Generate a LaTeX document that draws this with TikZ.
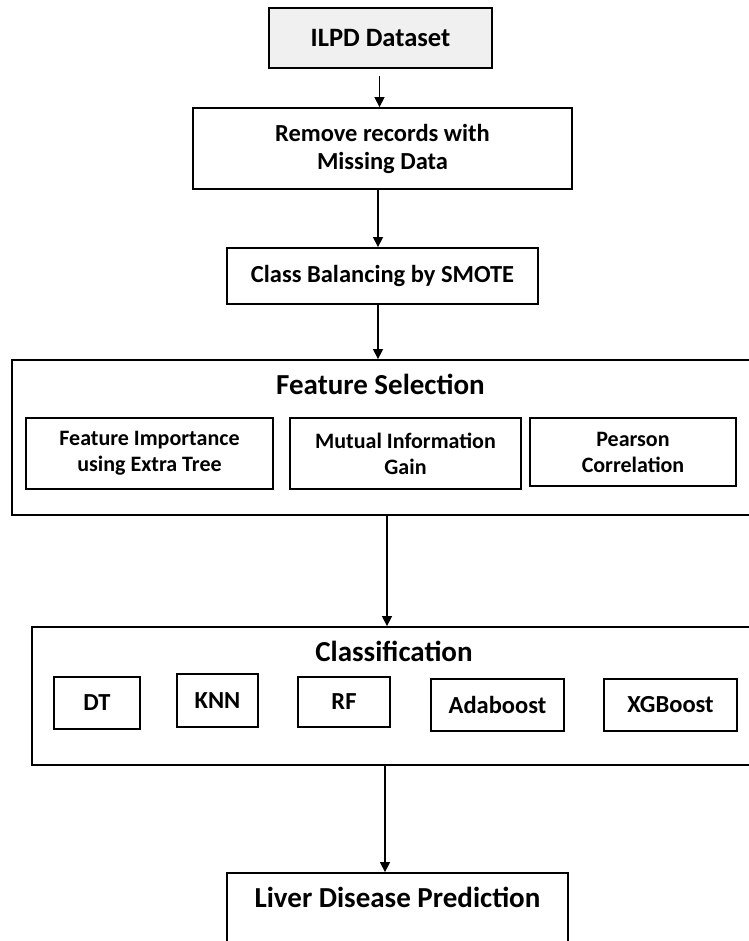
\documentclass[tikz,border=0pt]{standalone}
\usepackage{fontspec}
\setmainfont{Carlito}
\usetikzlibrary{arrows.meta}
\tikzset{
  stepbox/.style={draw, line width=1.8pt, align=center, inner sep=0pt, font=\fontsize{24.5}{28}\selectfont\bfseries},
  subbox/.style={stepbox, font=\fontsize{22}{26}\selectfont\bfseries},
  modelbox/.style={stepbox, font=\fontsize{24.5}{28}\selectfont\bfseries},
  groupbox/.style={draw, line width=1.8pt, inner sep=0pt},
  grouptitle/.style={font=\fontsize{29}{33}\selectfont\bfseries},
  flow/.style={line width=1.4pt, -{Triangle[length=10pt,width=10pt]}}
}
\begin{document}
\begin{tikzpicture}[x=1pt,y=-1pt]
\useasboundingbox (0,0) rectangle (748,941);
\node[stepbox, fill=gray!12, minimum width=223pt, minimum height=60pt,
  font=\fontsize{26.5}{30}\selectfont\bfseries] (ilpd) at (380.5,38) {ILPD Dataset};
\node[stepbox, minimum width=379pt, minimum height=81pt] (remove) at (382.5,148.5) {Remove records with\\Missing Data};
\node[stepbox, minimum width=311pt, minimum height=56pt] (smote) at (382.5,276) {Class Balancing by SMOTE};

% feature selection group
\node[groupbox, minimum width=760pt, minimum height=155pt] (feat) at (392,437.5) {};
\node[grouptitle] (feattitle) at (380.5,384) {Feature Selection};
\node[subbox, minimum width=247pt, minimum height=71pt] (fsa) at (149.5,453.5) {Feature Importance\\using Extra Tree};
\node[subbox, minimum width=231pt, minimum height=71pt] (fsb) at (405.5,453.5) {Mutual Information\\Gain};
\node[subbox, minimum width=206pt, minimum height=68pt] (fsc) at (633,452) {Pearson\\Correlation};

% classification group
\node[groupbox, minimum width=740pt, minimum height=138pt] (cls) at (402,696) {};
\node[grouptitle] (clstitle) at (394,651) {Classification};
\node[modelbox, minimum width=86pt, minimum height=52pt] (dt) at (97,703) {DT};
\node[modelbox, minimum width=81pt, minimum height=53pt] (knn) at (217.5,700.5) {KNN};
\node[modelbox, minimum width=92pt, minimum height=50pt] (rf) at (344,702) {RF};
\node[modelbox, minimum width=133pt, minimum height=52pt] (ada) at (497.5,705) {Adaboost};
\node[modelbox, minimum width=133pt, minimum height=52pt] (xgb) at (670.5,705) {XGBoost};

% prediction
\node[groupbox, minimum width=341pt, minimum height=90pt] (liver) at (397.5,918) {};
\node[grouptitle] (livertitle) at (397.5,897) {Liver Disease Prediction};

\draw[flow, shorten <=7pt] (ilpd.south -| 379.5,0) -- (379.5,0 |- remove.north);
\draw[flow] (remove.south -| 378,0) -- (378,0 |- smote.north);
\draw[flow] (smote.south -| 378,0) -- (378,0 |- feat.north);
\draw[flow] (feat.south -| 387,0) -- (387,0 |- cls.north);
\draw[flow] (cls.south -| 385,0) -- (385,0 |- liver.north);
\end{tikzpicture}
\end{document}
